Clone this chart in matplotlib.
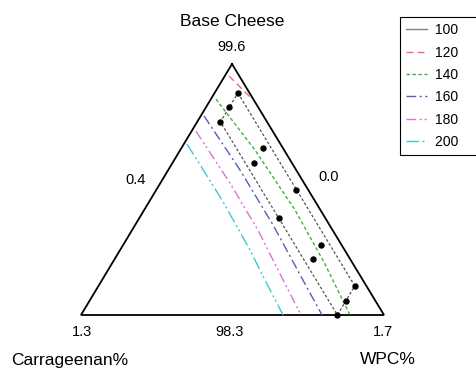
import matplotlib
matplotlib.use("Agg")
import matplotlib.pyplot as plt
from matplotlib.lines import Line2D

plt.rcParams['font.family'] = ['Liberation Sans', 'DejaVu Sans']

# component ranges (%): base cheese 98.3-99.6, carrageenan 0.0-1.3, WPC 0.4-1.7
base_min, carr_min, wpc_min = 98.3, 0.0, 0.4
span = 1.3

# design points (WPC %, carrageenan %)
design_wpc = [0.5, 0.5, 0.5, 1.0, 1.0, 1.5, 1.5, 1.5, 0.75, 0.75, 1.25, 1.25]
design_carr = [0.05, 0.125, 0.2, 0.05, 0.2, 0.05, 0.125, 0.2, 0.0875, 0.1625, 0.0875, 0.1625]
region_wpc = [0.5, 1.5, 1.5, 0.5, 0.5]
region_carr = [0.05, 0.05, 0.2, 0.2, 0.05]

# contour lines (WPC %, carrageenan %)
levels = [100, 120, 140, 160, 180, 200]
wpc_120 = [0.418, 0.583]
carr_120 = [0.044, 0.003]
wpc_140 = [0.422, 0.721, 1.047, 1.306, 1.554]
carr_140 = [0.160, 0.125, 0.109, 0.120, 0.146]
wpc_160 = [0.414, 0.708, 0.992, 1.262, 1.434]
carr_160 = [0.255, 0.241, 0.242, 0.257, 0.266]
wpc_180 = [0.419, 0.699, 0.940, 1.176, 1.344]
carr_180 = [0.329, 0.318, 0.320, 0.342, 0.356]
wpc_200 = [0.413, 0.708, 0.957, 1.099, 1.267]
carr_200 = [0.401, 0.396, 0.406, 0.420, 0.433]
contours = {120: (wpc_120, carr_120), 140: (wpc_140, carr_140),
            160: (wpc_160, carr_160), 180: (wpc_180, carr_180),
            200: (wpc_200, carr_200)}

styles = {
    100: dict(color='#808080', linestyle='-'),
    120: dict(color='#f06a6a', linestyle=(0, (5, 3))),
    140: dict(color='#3cb43c', linestyle=(0, (2.5, 1.8))),
    160: dict(color='#5a5ac0', linestyle=(0, (7, 2.5, 1.5, 2.5))),
    180: dict(color='#e070d0', linestyle=(0, (7, 2.5, 1.5, 2, 1.5, 2.5))),
    200: dict(color='#40c8d0', linestyle=(0, (9, 2.5, 1.5, 2, 1.5, 2.5))),
}

# triangle corners on the canvas (pixels)
top = (232, 64)      # base cheese
left = (81, 315)     # carrageenan
right = (384, 315)   # WPC


def to_xy(wpc, carr):
    xs, ys = [], []
    for wp, ca in zip(wpc, carr):
        w = (wp - wpc_min) / span
        c = (ca - carr_min) / span
        b = 1 - w - c
        xs.append(b * top[0] + c * left[0] + w * right[0])
        ys.append(b * top[1] + c * left[1] + w * right[1])
    return xs, ys


fig = plt.figure(figsize=(4.76, 3.68), dpi=100)
ax = fig.add_axes([0, 0, 1, 1])
ax.set_xlim(0, 476)
ax.set_ylim(368, 0)
ax.axis('off')

ax.plot([top[0], left[0], right[0], top[0]], [top[1], left[1], right[1], top[1]],
        color='black', lw=1.3, solid_joinstyle='miter')

for lv in levels:
    if lv not in contours:
        continue
    x, y = to_xy(*contours[lv])
    ax.plot(x, y, lw=1.0, **styles[lv])

x, y = to_xy(region_wpc, region_carr)
ax.plot(x, y, color='#555555', lw=0.9, linestyle=(0, (2.2, 1.6)))
x, y = to_xy(design_wpc, design_carr)
ax.plot(x, y, 'o', color='black', ms=3.6, linestyle='none')

ax.text(232, 22, 'Base Cheese', ha='center', va='center', fontsize=12.5)
ax.text(232, 47, '99.6', ha='center', va='center', fontsize=10.5)
ax.text(136, 180, '0.4', ha='center', va='center', fontsize=10.5)
ax.text(329, 177, '0.0', ha='center', va='center', fontsize=10.5)
ax.text(82, 332, '1.3', ha='center', va='center', fontsize=10.5)
ax.text(230, 332, '98.3', ha='center', va='center', fontsize=10.5)
ax.text(383, 332, '1.7', ha='center', va='center', fontsize=10.5)
ax.text(70, 360, 'Carrageenan%', ha='center', va='center', fontsize=12.5)
ax.text(388, 360, 'WPC%', ha='center', va='center', fontsize=12.5)

handles = [Line2D([], [], lw=1.0, **styles[lv]) for lv in levels]
leg = ax.legend(handles, [str(lv) + '    ' for lv in levels], loc='upper left',
                bbox_to_anchor=(400 / 476, 1 - 17 / 368),
                fontsize=10, handlelength=1.5, handletextpad=0.55,
                labelspacing=0.6, borderpad=0.45, borderaxespad=0,
                fancybox=False, framealpha=1)
leg.get_frame().set_edgecolor('black')
leg.get_frame().set_linewidth(0.8)

fig.savefig('out.png', dpi=100)
